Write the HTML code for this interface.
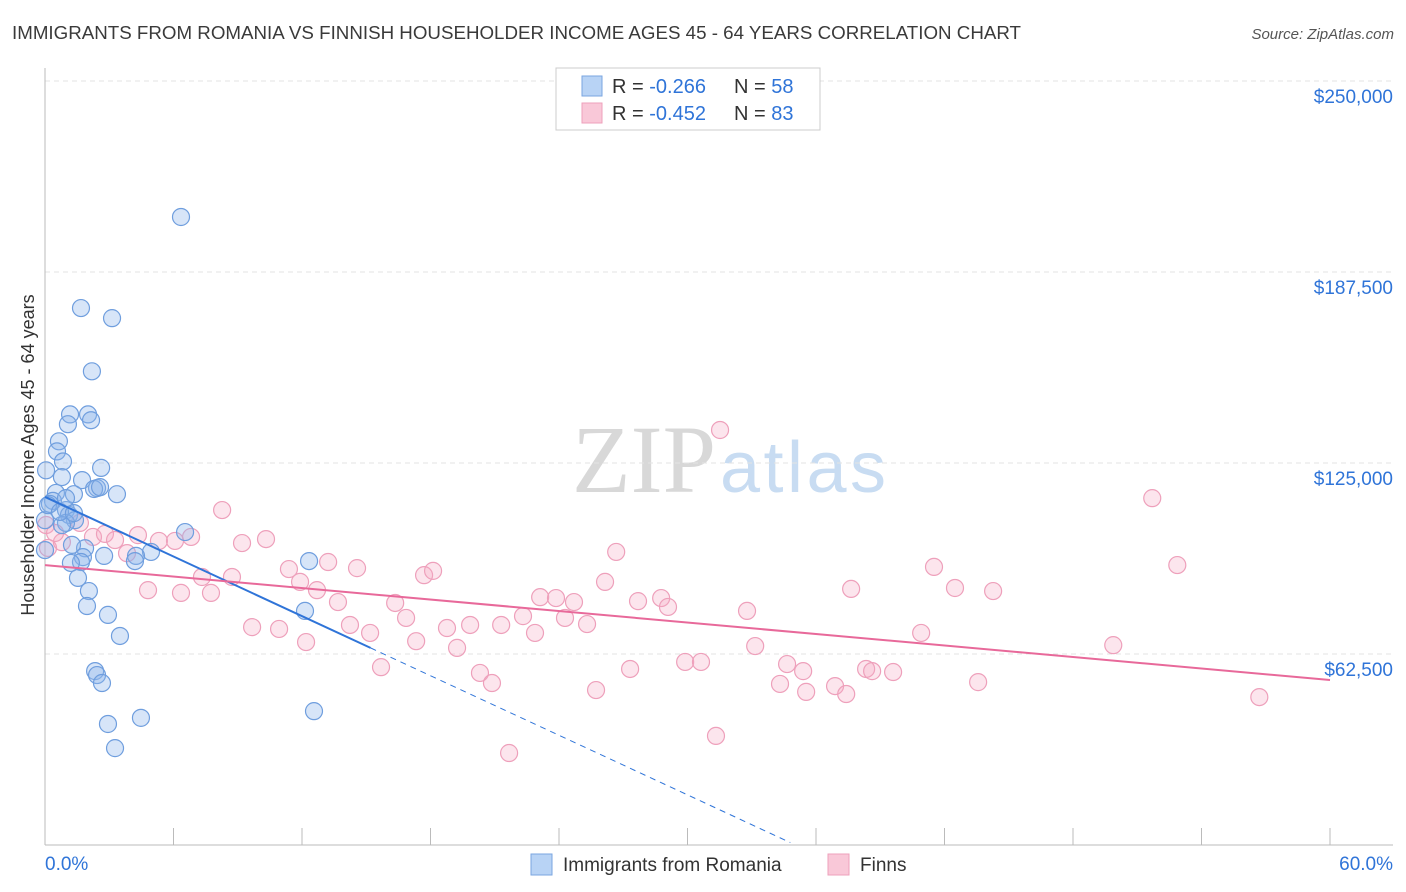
<!DOCTYPE html>
<html><head><meta charset="utf-8">
<style>
body{margin:0;background:#fff;font-family:"Liberation Sans",sans-serif;}
#wrap{position:relative;width:1406px;height:892px;overflow:hidden;}
</style></head>
<body>
<div id="wrap">
<svg id="svg" width="1406" height="892" xmlns="http://www.w3.org/2000/svg">
<text x="12" y="39" font-size="18" fill="#3a3a3a" textLength="1009" lengthAdjust="spacingAndGlyphs">IMMIGRANTS FROM ROMANIA VS FINNISH HOUSEHOLDER INCOME AGES 45 - 64 YEARS CORRELATION CHART</text>
<text x="1394" y="39" font-size="15" fill="#555" font-style="italic" text-anchor="end">Source: ZipAtlas.com</text>
<text x="716" y="492" font-size="96" fill="#d8d8d8" text-anchor="end" font-family="Liberation Serif">ZIP</text>
<text x="720" y="492" font-size="72" fill="#c8dcf2" textLength="166">atlas</text>
<g id="grid"></g><g id="axes"></g><g id="marks"></g>
<text transform="translate(34,455) rotate(-90)" font-size="18" fill="#333" text-anchor="middle">Householder Income Ages 45 - 64 years</text>
<g>
<rect x="556" y="68" width="264" height="62" fill="#fff" stroke="#ccc"/>
<rect x="582" y="76" width="20" height="20" fill="#b8d3f5" stroke="#7aa6e0"/>
<rect x="582" y="103" width="20" height="20" fill="#f9c8d8" stroke="#eea0bb"/>
<text x="612" y="93" font-size="20" fill="#333">R = <tspan fill="#2f74d8">-0.266</tspan><tspan x="734">N = </tspan><tspan fill="#2f74d8">58</tspan></text>
<text x="612" y="120" font-size="20" fill="#333">R = <tspan fill="#2f74d8">-0.452</tspan><tspan x="734">N = </tspan><tspan fill="#2f74d8">83</tspan></text>
</g>
<g>
<rect x="531" y="854" width="21" height="21" fill="#b8d3f5" stroke="#7aa6e0"/>
<text x="563" y="871" font-size="19" fill="#333">Immigrants from Romania</text>
<rect x="828" y="854" width="21" height="21" fill="#f9c8d8" stroke="#eea0bb"/>
<text x="860" y="871" font-size="19" fill="#333">Finns</text>
</g>
<text x="45" y="870" font-size="19" fill="#2f74d8">0.0%</text>
<text x="1393" y="870" font-size="19" fill="#2f74d8" text-anchor="end">60.0%</text>
</svg>
</div>
<script>
const yTicks=[62500,125000,187500,250000];
const yTickLabels=["$62,500","$125,000","$187,500","$250,000"];
const xTicks=[0,6,12,18,24,30,36,42,48,54,60];
const romX=[6.35,1.68,3.13,2.19,1.17,2.01,2.15,1.07,0.65,0.56,0.84,0.05,2.62,0.79,0.51,1.73,2.43,2.29,3.36,1.35,0.37,0.23,0.98,1.12,1.40,0.98,0.79,0.0,6.54,1.87,1.26,1.77,2.76,0.0,4.95,4.25,4.20,1.68,1.21,1.54,12.33,2.05,1.96,2.94,3.50,12.14,2.34,2.43,2.66,12.56,2.94,4.48,3.27,0.14,0.70,1.35,0.98,2.57];
const romY=[205.5,175.7,172.4,155.0,140.9,140.9,139.0,137.7,132.1,128.8,125.5,122.6,123.4,120.4,115.2,119.4,116.8,116.5,114.8,114.8,112.6,111.6,109.6,108.0,106.3,105.4,104.7,106.3,102.4,97.1,98.2,94.2,94.6,96.5,95.9,94.6,92.9,92.6,92.3,87.4,92.9,83.1,78.2,75.3,68.4,76.6,56.9,55.6,53.0,43.8,39.6,41.6,31.7,111.2,109.0,108.6,113.5,117.1];
const finX=[0.05,0.14,1.63,2.24,0.79,0.47,2.80,3.27,4.34,3.83,5.32,6.07,6.82,8.27,9.20,10.32,4.81,6.35,7.33,7.75,8.73,9.67,10.93,11.91,12.19,11.39,12.70,13.22,13.68,14.57,14.24,15.18,15.69,16.35,16.86,17.33,17.70,18.12,18.77,19.24,19.85,20.31,20.87,21.30,22.32,21.67,22.88,23.12,23.86,24.28,24.70,25.31,25.73,26.15,26.67,27.32,27.69,28.77,29.09,29.89,30.63,31.33,31.52,32.78,33.16,34.32,34.65,35.40,35.54,36.89,37.41,37.64,38.34,38.62,39.60,40.91,41.51,42.49,43.57,44.27,49.88,51.70,52.87,56.70];
const finY=[104.7,97.2,105.4,100.8,99.1,102.1,101.8,99.8,101.4,95.5,99.5,99.5,100.8,109.6,98.8,100.1,83.4,82.5,87.7,82.5,87.7,71.3,70.7,86.1,66.4,90.3,83.4,92.6,79.5,90.6,72.0,69.4,58.2,79.2,74.3,66.7,88.3,89.7,71.0,64.5,72.0,56.3,53.0,72.0,74.9,30.1,69.4,81.1,80.8,74.3,79.5,72.3,50.7,86.1,95.9,57.6,79.8,80.8,77.9,59.9,59.9,35.7,135.8,76.6,65.1,52.7,59.2,56.9,50.1,52.0,49.4,83.8,57.6,56.9,56.6,69.4,91.0,84.1,53.3,83.1,65.4,113.5,91.6,48.4];
const romTrend=[113.9,-3.25,15.2,34.8];
const finTrend=[91.6,54.0];
const NS="http://www.w3.org/2000/svg";
const X=p=>45+p/60*1285;
const Y=k=>845-k*1000/62500*191;
function mk(tag,attrs,parent){const e=document.createElementNS(NS,tag);for(const a in attrs)e.setAttribute(a,attrs[a]);parent.appendChild(e);return e;}
const grid=document.getElementById('grid'),axes=document.getElementById('axes'),marks=document.getElementById('marks');
yTicks.forEach((v,i)=>{
 const y=Y(v/1000);
 const l=mk('line',{x1:45,x2:1393,y1:y,y2:y,stroke:'#e3e3e3','stroke-dasharray':'5,4'},grid);
 
 
 const t=mk('text',{x:1393,y:y+22,'font-size':19,fill:'#2f74d8','text-anchor':'end'},axes);
 t.textContent=yTickLabels[i];
 
 
});
const ax=mk('line',{x1:45,x2:1393,y1:845,y2:845,stroke:'#bbb'},axes);


const ay=mk('line',{x1:45,x2:45,y1:68,y2:845,stroke:'#bbb'},axes);


xTicks.forEach(p=>{const t=mk('line',{x1:X(p),x2:X(p),y1:828,y2:845,stroke:'#bbb'},axes);
 
 });
finX.forEach((p,i)=>{const c=mk('circle',{cx:X(p),cy:Y(finY[i]),r:8.5,fill:'rgba(246,170,196,0.3)',stroke:'#eea0bb','stroke-width':1.2},marks);
 
 });
romX.forEach((p,i)=>{const c=mk('circle',{cx:X(p),cy:Y(romY[i]),r:8.5,fill:'rgba(140,180,235,0.35)',stroke:'#6f9ede','stroke-width':1.2},marks);
 
 });
const rt=p=>romTrend[0]+romTrend[1]*p;
const l1=mk('line',{x1:X(0),y1:Y(rt(0)),x2:X(romTrend[2]),y2:Y(rt(romTrend[2])),stroke:'#2f74d8','stroke-width':2},marks);


const l2=mk('line',{x1:X(romTrend[2]),y1:Y(rt(romTrend[2])),x2:X(romTrend[3]),y2:Y(rt(romTrend[3])),stroke:'#2f74d8','stroke-width':1,'stroke-dasharray':'6,5'},marks);


const l3=mk('line',{x1:X(0),y1:Y(finTrend[0]),x2:X(60),y2:Y(finTrend[1]),stroke:'#e8699a','stroke-width':2},marks);


</script>
</body></html>
